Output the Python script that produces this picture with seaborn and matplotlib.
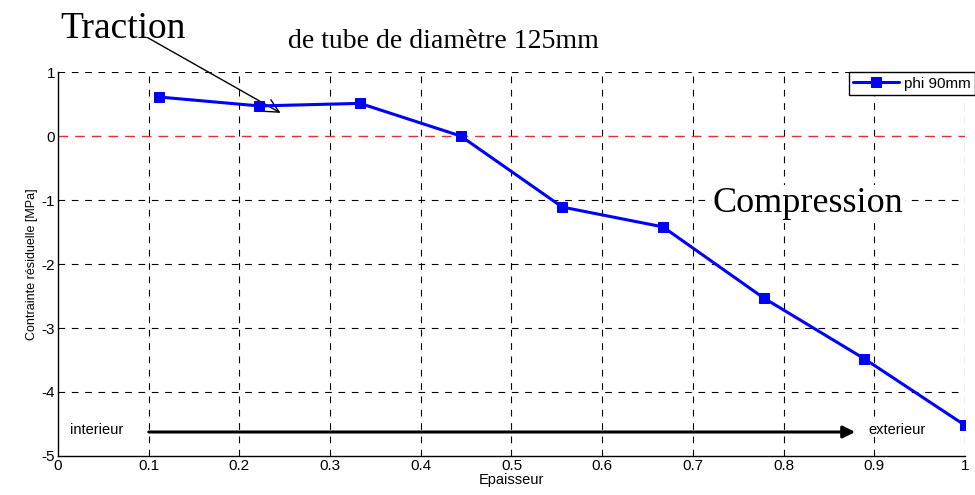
import numpy as np
import pandas as pd
import matplotlib
matplotlib.use("Agg")
import matplotlib.pyplot as plt
import seaborn as sns

epaisseur = [0.111, 0.222, 0.333, 0.444, 0.556, 0.667, 0.778, 0.889, 1.0]
contrainte = [0.61, 0.47, 0.51, 0.0, -1.11, -1.42, -2.53, -3.48, -4.52]
series_name = "phi 90mm"
xticks = [0, 0.1, 0.2, 0.3, 0.4, 0.5, 0.6, 0.7, 0.8, 0.9, 1]
xticklabels = ["0", "0.1", "0.2", "0.3", "0.4", "0.5", "0.6", "0.7", "0.8", "0.9", "1"]
yticks = [-5, -4, -3, -2, -1, 0, 1]

df = pd.DataFrame({"Epaisseur": epaisseur, "Contrainte": contrainte, "serie": series_name})

sns.set_style("white")
plt.rcParams['font.family'] = ['Liberation Sans', 'DejaVu Sans']
plt.rcParams['axes.unicode_minus'] = False
plt.rcParams['text.color'] = 'black'
plt.rcParams['axes.labelcolor'] = 'black'
plt.rcParams['xtick.color'] = 'black'
plt.rcParams['ytick.color'] = 'black'

fig = plt.figure(figsize=(9.75, 4.95), dpi=100)
ax = fig.add_axes([0.0595, 0.0788, 0.9302, 0.7757])

sns.lineplot(data=df, x="Epaisseur", y="Contrainte", hue="serie", palette=["#0000ff"],
             marker="s", markersize=7, markeredgecolor="#0000ff", linewidth=2.2, ax=ax,
             zorder=5)

ax.set_xlim(0, 1)
ax.set_ylim(-5, 1)
ax.set_xticks(xticks)
ax.set_xticklabels(xticklabels)
ax.set_yticks(yticks)
ax.tick_params(direction="in", length=4, labelsize=11, pad=2)

for x in xticks[1:]:
    ax.axvline(x, color="black", lw=0.8, ls=(0, (6, 6)), zorder=1)
for y in yticks[1:]:
    if y == 0:
        ax.axhline(y, color="#e03030", lw=1.0, ls=(0, (7, 5)), zorder=2)
    else:
        ax.axhline(y, color="black", lw=0.8, ls=(0, (6, 6)), zorder=1)

for s in ["top", "right"]:
    ax.spines[s].set_visible(False)
for s in ["left", "bottom"]:
    ax.spines[s].set_color("black")
    ax.spines[s].set_linewidth(1.0)

ax.set_xlabel("Epaisseur", fontsize=10.5, labelpad=0)
ax.set_ylabel("Contrainte résiduelle [MPa]", fontsize=9, labelpad=3)

leg = ax.legend(loc="upper right", bbox_to_anchor=(1.011, 1.0), fontsize=11,
                frameon=True, fancybox=False, borderpad=0.3, handlelength=3.0,
                handletextpad=0.3, borderaxespad=0)
leg.get_frame().set_edgecolor("black")
leg.get_frame().set_linewidth(1.0)
leg.get_frame().set_alpha(1)

# bottom arrow
ax.annotate("", xy=(0.882, -4.625), xytext=(0.097, -4.625),
            arrowprops=dict(arrowstyle="-|>", color="black", lw=2.2, mutation_scale=18),
            zorder=6)
ax.text(0.013, -4.59, "interieur", fontsize=10.5, va="center", ha="left")
ax.text(0.893, -4.59, "exterieur", fontsize=10.5, va="center", ha="left",
        bbox=dict(facecolor="white", edgecolor="none", pad=0.5))

# Traction arrow
ax.annotate("", xy=(0.248, 0.34), xytext=(0.096, 1.56),
            arrowprops=dict(arrowstyle="->", color="black", lw=1.0, mutation_scale=24),
            annotation_clip=False)

fig.text(60 / 975, 1 - 38 / 495, "Traction", family="Liberation Serif", fontsize=27,
         ha="left", va="baseline")
fig.text(443 / 975, 1 - 42 / 495, "de tube de diamètre 125mm", family="Liberation Serif",
         fontsize=20, ha="center", va="center")
fig.text(713 / 975, 1 - 203 / 495, "Compression", family="Liberation Serif", fontsize=26,
         ha="left", va="center",
         bbox=dict(facecolor="white", edgecolor="none", pad=1))

fig.savefig("out.png", dpi=100)
